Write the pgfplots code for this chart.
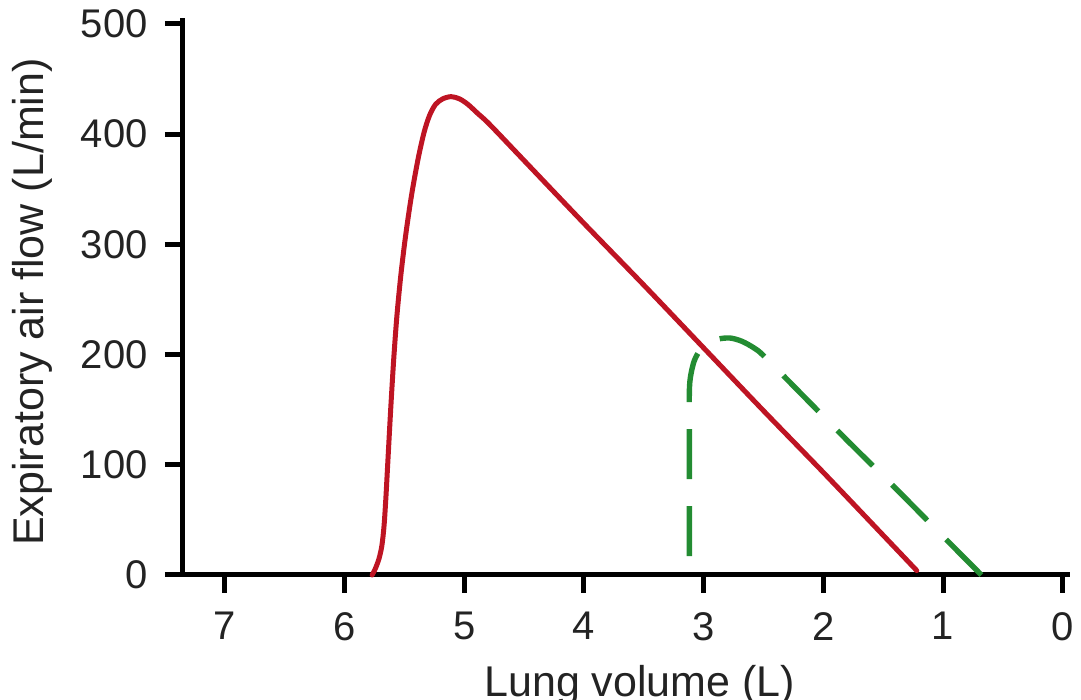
\documentclass[border=0pt]{standalone}
\usepackage{pgfplots}
\pgfplotsset{compat=1.18}
\usepackage{fontspec}
\setmainfont{Liberation Sans}
\definecolor{redc}{RGB}{190,20,35}
\definecolor{greenc}{RGB}{35,140,50}
\definecolor{txt}{RGB}{35,35,35}
\begin{document}
\begin{tikzpicture}
\useasboundingbox (-91.5pt,-62.5pt) rectangle (449pt,287.5pt);
\begin{axis}[
  at={(0pt,0pt)}, anchor=south west,
  scale only axis, width=443.5pt, height=278.3pt,
  xmin=-0.06, xmax=7.35, ymin=0, ymax=505,
  x dir=reverse,
  axis x line=bottom, axis y line=left,
  axis line style={line width=2.5pt, -, black},
  xtick={0,1,2,3,4,5,6,7}, ytick={0,100,200,300,400,500},
  tick align=outside, major tick length=9pt,
  tick style={line width=2.5pt, black},
  /pgf/number format/assume math mode=true,
  ticklabel style={font=\fontsize{20}{23}\selectfont, text=txt, inner sep=0pt},
  xticklabel style={anchor=north, yshift=-9.5pt},
  yticklabel style={anchor=east, xshift=-8.5pt},
  xlabel={Lung volume (L)},
  ylabel={Expiratory air flow (L/min)},
  every axis x label/.style={at={(axis description cs:0.515,-0.2174)}, anchor=base, font=\fontsize{21.5}{24}\selectfont, text=txt},
  every axis y label/.style={at={(axis description cs:-0.1567,0.4905)}, rotate=90, anchor=base, font=\fontsize{21.5}{24}\selectfont, text=txt},
  clip=false,
]
\addplot[redc, line width=2.5pt, smooth, tension=0.5, line join=round, line cap=round] coordinates {
(5.77,0) (5.742,6) (5.712,15) (5.688,27) (5.670,45) (5.655,70) (5.640,100) (5.615,150) (5.590,195) (5.563,235) (5.530,272) (5.490,308) (5.440,345) (5.385,378) (5.335,402) (5.290,417) (5.240,427) (5.180,432) (5.110,434) (5.040,432) (4.970,427) (4.890,419) (4.790,409)
(4.50,376) (4.00,319) (3.50,263) (3.00,206) (2.50,149) (2.00,93) (1.50,36) (1.22,4)
};
\addplot[greenc, line width=2.7pt, smooth, tension=0.5, dash pattern=on 25pt off 13.5pt] coordinates {
(0.68,0) (1.00,35) (1.40,79) (1.80,122) (2.20,166) (2.50,199) (2.58,206) (2.68,212) (2.78,215) (2.88,214) (2.96,210) (3.03,204) (3.08,194) (3.11,180) (3.12,165) (3.12,120) (3.12,60) (3.12,0)
};
\end{axis}
\end{tikzpicture}
\end{document}
